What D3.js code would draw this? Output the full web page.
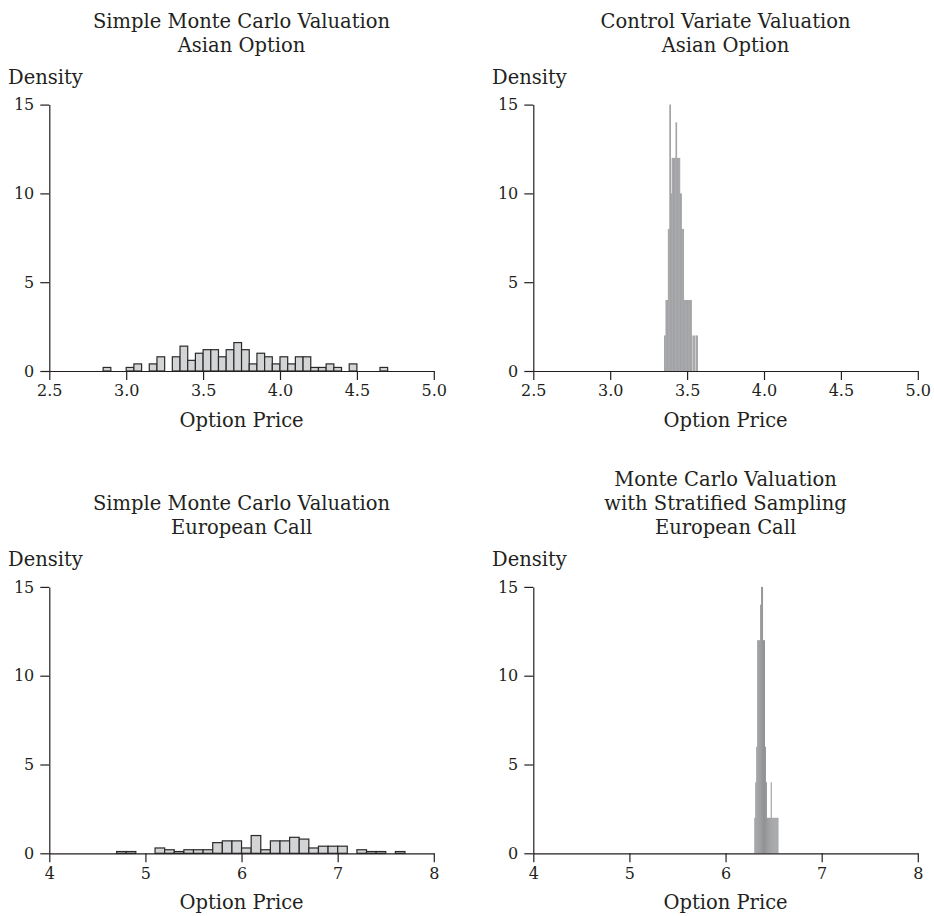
<!DOCTYPE html>
<html><head><meta charset="utf-8">
<script src="https://cdn.jsdelivr.net/npm/d3@7/dist/d3.min.js"></script>
<style>
html,body{margin:0;padding:0;background:#fff;}
svg text{font-family:"DejaVu Serif",serif;fill:#231f20;}
</style></head>
<body><svg id="c" width="934" height="916"></svg>
<script>
// ---------- DATA ----------
// Panel 1: Simple Monte Carlo, Asian option (bin width 0.05)
const asianMcBins    = [2.85,3.00,3.05,3.15,3.20,3.30,3.35,3.40,3.45,3.50,3.55,3.60,3.65,3.70,3.75,3.80,3.85,3.90,3.95,4.00,4.05,4.10,4.15,4.20,4.25,4.30,4.35,4.45,4.65];
const asianMcDensity = [0.2,0.2,0.4,0.4,0.8,0.8,1.4,0.6,1.0,1.2,1.2,0.8,1.2,1.6,1.2,0.4,1.0,0.8,0.4,0.8,0.4,0.8,0.8,0.2,0.2,0.4,0.2,0.4,0.2];
const asianMcWidth = 0.05;

// Panel 2: Control variate, Asian option (bin width 0.005)
const asianCvBins    = [3.350,3.355,3.360,3.365,3.370,3.375,3.380,3.385,3.390,3.395,3.400,3.405,3.410,3.415,3.420,3.425,3.430,3.435,3.440,3.445,3.450,3.455,3.460,3.465,3.470,3.475,3.480,3.485,3.490,3.495,3.500,3.505,3.510,3.515,3.520,3.525,3.530,3.540,3.545,3.555,3.560,3.565];
const asianCvDensity = [2,2,4,4,4,8,8,15,15,10,12,12,12,12,12,14,14,12,12,12,12,10,10,8,8,8,4,4,4,4,4,4,4,4,4,4,2,2,2,2,2,2];
const asianCvWidth = 0.005;

// Panel 3: Simple Monte Carlo, European call (bin width 0.1)
const euroMcBins    = [4.7,4.8,5.1,5.2,5.3,5.4,5.5,5.6,5.7,5.8,5.9,6.0,6.1,6.2,6.3,6.4,6.5,6.6,6.7,6.8,6.9,7.0,7.2,7.3,7.4,7.6];
const euroMcDensity = [0.1,0.1,0.3,0.2,0.1,0.2,0.2,0.2,0.6,0.7,0.7,0.3,1.0,0.2,0.7,0.7,0.9,0.8,0.3,0.4,0.4,0.4,0.2,0.1,0.1,0.1];
const euroMcWidth = 0.1;

// Panel 4: Stratified sampling, European call (bin width 0.01)
const euroStBins    = [6.30,6.31,6.32,6.33,6.34,6.35,6.36,6.37,6.38,6.39,6.40,6.41,6.42,6.43,6.44,6.45,6.46,6.47,6.48,6.49,6.50,6.51,6.52,6.53,6.54];
const euroStDensity = [2,4,6,12,12,12,14,15,15,12,12,6,4,2,2,2,2,4,2,2,2,2,2,2,2];
const euroStWidth = 0.01;

const yTicks = [0,5,10,15];
const asianTicks = [2.5,3.0,3.5,4.0,4.5,5.0];
const euroTicks = [4,5,6,7,8];

const titles = [
  ["Simple Monte Carlo Valuation","Asian Option"],
  ["Control Variate Valuation","Asian Option"],
  ["Simple Monte Carlo Valuation","European Call"],
  ["Monte Carlo Valuation","with Stratified Sampling","European Call"]
];
const yLabel = "Density";
const xLabel = "Option Price";

// ---------- LAYOUT ----------
const svg = d3.select("#c");
const colX = [49.3, 533.3];
const plotW = 384.5;
const rowY0 = [371, 853.3];   // y pixel of density 0
const plotH = 266.4;          // 0 -> 15
const labelSize = 19.5, tickSize = 16;

const panels = [
  {col:0,row:0,bins:asianMcBins,dens:asianMcDensity,w:asianMcWidth,dom:[2.5,5],ticks:asianTicks,fmt:d3.format(".1f"),style:"light",title:titles[0]},
  {col:1,row:0,bins:asianCvBins,dens:asianCvDensity,w:asianCvWidth,dom:[2.5,5],ticks:asianTicks,fmt:d3.format(".1f"),style:"dark",title:titles[1]},
  {col:0,row:1,bins:euroMcBins,dens:euroMcDensity,w:euroMcWidth,dom:[4,8],ticks:euroTicks,fmt:d3.format("d"),style:"light",title:titles[2]},
  {col:1,row:1,bins:euroStBins,dens:euroStDensity,w:euroStWidth,dom:[4,8],ticks:euroTicks,fmt:d3.format("d"),style:"dark",title:titles[3]}
];

panels.forEach(p=>{
  const x0 = colX[p.col], y0 = rowY0[p.row];
  const x = d3.scaleLinear().domain(p.dom).range([x0, x0+plotW]);
  const y = d3.scaleLinear().domain([0,15]).range([y0, y0-plotH]);
  const g = svg.append("g");
  const data = p.bins.map((b,i)=>({x0:b,x1:b+p.w,d:p.dens[i]}));
  const bars = g.append("g").selectAll("rect").data(data).join("rect")
    .attr("x",d=>x(d.x0)).attr("width",d=>x(d.x1)-x(d.x0))
    .attr("y",d=>y(d.d)).attr("height",d=>y(0)-y(d.d));
  if(p.style==="light"){
    bars.attr("fill","#d3d4d6").attr("stroke","#2a2a2a").attr("stroke-width",1.2);
  } else {
    bars.attr("fill","#8e8f92").attr("stroke","none");
  }
  // axes
  const ax = g.append("g").attr("transform",`translate(0,${y0})`)
    .call(d3.axisBottom(x).tickValues(p.ticks).tickFormat(p.fmt).tickSize(9).tickSizeOuter(0).tickPadding(5));
  const ay = g.append("g").attr("transform",`translate(${x0},0)`)
    .call(d3.axisLeft(y).tickValues(yTicks).tickSize(9).tickSizeOuter(0).tickPadding(6));
  [ax,ay].forEach(a=>{
    a.attr("font-size",tickSize).attr("font-family","DejaVu Serif");
    a.selectAll("path,line").attr("stroke","#231f20").attr("stroke-width",1.2);
    a.selectAll("text").style("font-size",tickSize+"px").attr("fill","#231f20");
  });
  // labels
  const cx = x0 + plotW/2;
  g.append("text").attr("x",cx).attr("y",y0+56).attr("text-anchor","middle").style("font-size",labelSize+"px").text(xLabel);
  g.append("text").attr("x",x0-41.3).attr("y",y0-287).style("font-size",labelSize+"px").text(yLabel);
  const lines = p.title;
  lines.forEach((t,i)=>{
    g.append("text").attr("x",cx).attr("y",y0-343+24*(i-lines.length+2)).attr("text-anchor","middle").style("font-size",labelSize+"px").text(t);
  });
});
</script></body></html>
